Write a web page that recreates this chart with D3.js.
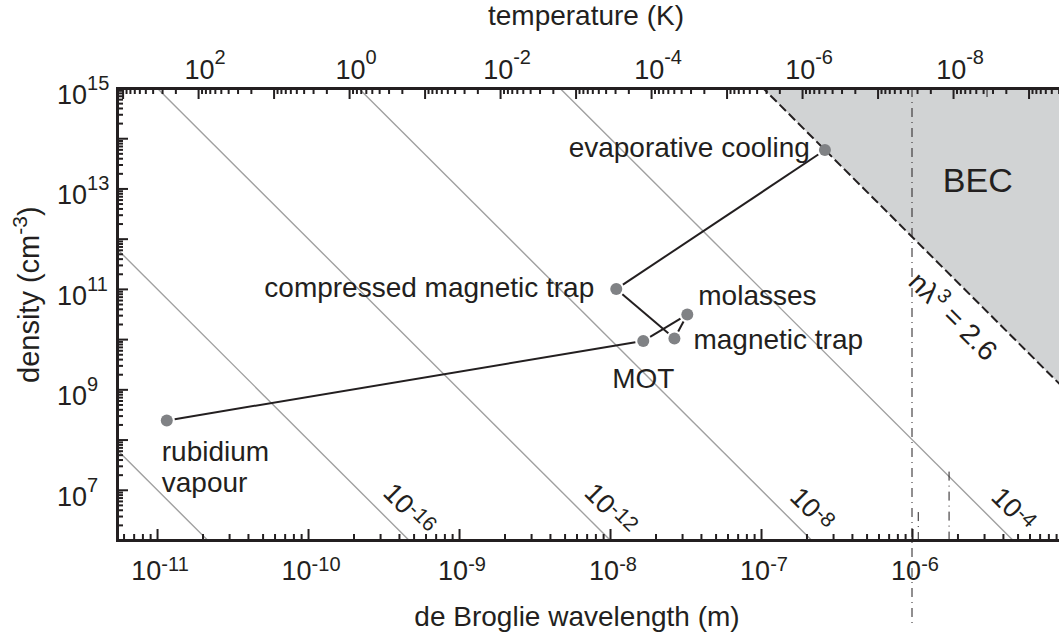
<!DOCTYPE html>
<html lang="en">
  <head>
    <meta charset="UTF-8" />
    <title>Path to BEC in phase space</title>
    <script src="https://d3js.org/d3.v7.min.js"></script>
    <style>
      html,
      body {
        margin: 0;
        padding: 0;
        background-color: #ffffff;
      }
      svg {
        display: block;
        font-family: "Liberation Sans", Arial, Helvetica, sans-serif;
      }
      text {
        fill: #231f20;
      }
      .axis .domain {
        stroke: #231f20;
        stroke-width: 3;
        stroke-linecap: square;
      }
      .axis .tick line {
        stroke: #231f20;
        stroke-width: 2;
      }
    </style>
  </head>
  <body>
    <svg id="chart" width="1059" height="639"></svg>
    <script>
      // cooling stages: de Broglie wavelength (m) and density (cm^-3)
      const stages = [
        "rubidium vapour",
        "MOT",
        "molasses",
        "magnetic trap",
        "compressed magnetic trap",
        "evaporative cooling",
      ];
      const wavelength = [1.16e-11, 1.66e-8, 3.25e-8, 2.67e-8, 1.1e-8, 2.65e-7];
      const density = [2.4e8, 9.2e9, 3.1e10, 1.03e10, 9.9e10, 5.8e13];

      // lines of constant phase-space density n*lambda^3
      const psdValues = [1e-20, 1e-16, 1e-12, 1e-8, 1e-4];
      const psdLabels = ["", "-16", "-12", "-8", "-4"];
      const becPsd = 1.09; // where the dashed threshold sits in the picture
      const becText = "2.6";

      // tick labels (exponents of 10)
      const lambdaTickExp = [-11, -10, -9, -8, -7, -6];
      const densityTickExp = [15, 13, 11, 9, 7];
      const tempTickExp = [2, 0, -2, -4, -6, -8];

      // lambda = h / sqrt(2 pi m k T) for 87Rb, metres at T = 1 K
      const lambdaAt1K = 1.87e-10;

      // stray dotted verticals visible in the scan
      const strayLambda = [1e-6, 1.1e-6, 1.76e-6, 3.14e-6];
      const strayTop = [1e15, 3.6e6, 2.3e7, 1e15];
      const strayBottom = [2e4, 1e6, 1e6, 5.8e14];

      const plotLeft = 117,
        plotRight = 1063,
        plotTop = 88,
        plotBottom = 540;
      const ink = "#231f20";

      const x = d3.scaleLog().domain([5.43e-12, 1e-5]).range([plotLeft, plotRight]);
      const y = d3.scaleLog().domain([1e6, 1e15]).range([plotBottom, plotTop]);
      const tempOf = (l) => Math.pow(lambdaAt1K / l, 2);
      const t = d3
        .scaleLog()
        .domain(x.domain().map(tempOf))
        .range([plotLeft, plotRight]);

      const svg = d3.select("#chart");

      svg
        .append("clipPath")
        .attr("id", "plot")
        .append("rect")
        .attr("x", plotLeft)
        .attr("y", plotTop)
        .attr("width", plotRight - plotLeft)
        .attr("height", plotBottom - plotTop);

      const plot = svg.append("g").attr("clip-path", "url(#plot)");

      // density on a line n*lambda^3 = psd, lambda converted to cm
      const nOn = (psd, l) => psd / Math.pow(l * 100, 3);
      const [l0, l1] = x.domain();

      // BEC region
      const ax = x(l0),
        ay = y(nOn(becPsd, l0));
      const bx = x(l1),
        by = y(nOn(becPsd, l1));
      plot
        .append("path")
        .attr("d", `M${ax},${ay}L${bx},${by}L${bx},${ay}Z`)
        .attr("fill", "#d1d3d4");

      // constant phase-space density lines
      plot
        .selectAll("line.psd")
        .data(psdValues)
        .join("line")
        .attr("class", "psd")
        .attr("x1", x(l0))
        .attr("y1", (d) => y(nOn(d, l0)))
        .attr("x2", x(l1))
        .attr("y2", (d) => y(nOn(d, l1)))
        .attr("stroke", "#a0a0a0")
        .attr("stroke-width", 1.4);

      // BEC threshold
      plot
        .append("line")
        .attr("x1", ax)
        .attr("y1", ay)
        .attr("x2", bx)
        .attr("y2", by)
        .attr("stroke", ink)
        .attr("stroke-width", 2)
        .attr("stroke-dasharray", "9,4");

      // stray verticals
      svg
        .selectAll("line.stray")
        .data(strayLambda)
        .join("line")
        .attr("class", "stray")
        .attr("x1", (d) => x(d))
        .attr("x2", (d) => x(d))
        .attr("y1", (d, i) => y(strayTop[i]))
        .attr("y2", (d, i) => y(strayBottom[i]))
        .attr("stroke", ink)
        .attr("stroke-width", 1)
        .attr("stroke-dasharray", "9,5,1,5");

      // labels on psd lines, near the bottom
      psdValues.forEach((v, i) => {
        if (!psdLabels[i]) return;
        const lb = Math.cbrt(v / 1e6) / 100; // where the line meets n = 1e6
        const g = svg
          .append("text")
          .attr("transform", `translate(${x(lb) + 1},${509}) rotate(45)`)
          .attr("text-anchor", "middle")
          .attr("dy", "0.35em")
          .attr("font-size", 27);
        g.append("tspan").text("10");
        g.append("tspan").attr("font-size", 21).attr("dy", -6).text(psdLabels[i]);
      });

      // n lambda^3 = 2.6 label along the threshold
      {
        const lx = Math.pow(10, -5.6);
        const fx = x(lx),
          fy = y(nOn(becPsd, lx));
        const cx = fx - 27 * Math.SQRT1_2,
          cy = fy + 27 * Math.SQRT1_2;
        const g = svg
          .append("text")
          .attr("transform", `translate(${cx},${cy}) rotate(45)`)
          .attr("text-anchor", "middle")
          .attr("dy", "0.35em")
          .attr("font-size", 28);
        g.append("tspan").text("n\u03bb");
        g.append("tspan").attr("font-size", 20).attr("dy", -11).text("3");
        g.append("tspan").attr("dy", 11).text(" = " + becText);
      }

      svg
        .append("text")
        .attr("x", x(1.6e-6))
        .attr("y", y(8.5e12))
        .attr("font-size", 34)
        .text("BEC");

      // connecting path between stages, trimmed away from the dots
      const pts = wavelength.map((l, i) => [x(l), y(density[i])]);
      const gap = 8;
      const segs = d3.pairs(pts).map(([a, b]) => {
        const dx = b[0] - a[0],
          dy = b[1] - a[1],
          L = Math.hypot(dx, dy);
        return [
          a[0] + (dx / L) * gap,
          a[1] + (dy / L) * gap,
          b[0] - (dx / L) * gap,
          b[1] - (dy / L) * gap,
        ];
      });
      svg
        .selectAll("line.seg")
        .data(segs)
        .join("line")
        .attr("class", "seg")
        .attr("x1", (d) => d[0])
        .attr("y1", (d) => d[1])
        .attr("x2", (d) => d[2])
        .attr("y2", (d) => d[3])
        .attr("stroke", ink)
        .attr("stroke-width", 2);

      svg
        .selectAll("circle.stage")
        .data(pts)
        .join("circle")
        .attr("class", "stage")
        .attr("cx", (d) => d[0])
        .attr("cy", (d) => d[1])
        .attr("r", 6)
        .attr("fill", "#808285");

      // stage label placement: [dx, dy, anchor]
      const labelPos = {
        "rubidium vapour": [-5, 41, "start"],
        MOT: [0, 47, "middle"],
        molasses: [11, -9, "start"],
        "magnetic trap": [19, 11, "start"],
        "compressed magnetic trap": [-22, 8, "end"],
        "evaporative cooling": [-15, 7, "end"],
      };
      stages.forEach((s, i) => {
        const [dx, dy, anchor] = labelPos[s];
        const txt = svg
          .append("text")
          .attr("x", pts[i][0] + dx)
          .attr("y", pts[i][1] + dy)
          .attr("text-anchor", anchor)
          .attr("font-size", 28);
        if (s === "rubidium vapour") {
          txt.append("tspan").text("rubidium");
          txt
            .append("tspan")
            .attr("x", pts[i][0] + dx)
            .attr("dy", 31)
            .text("vapour");
        } else {
          txt.text(s);
        }
      });

      // axes: major ticks every decade, minor ticks 2..9
      const decades = d3.range(-20, 20);
      const minorIn = (sc) => {
        const [a, b] = d3.extent(sc.domain());
        const out = [];
        decades.forEach((e) =>
          d3.range(2, 10).forEach((k) => {
            const v = k * Math.pow(10, e);
            if (v > a && v < b) out.push(v);
          })
        );
        return out;
      };
      const majorIn = (sc) => {
        const [a, b] = d3.extent(sc.domain());
        return decades.map((e) => Math.pow(10, e)).filter((v) => v >= a && v <= b);
      };

      function drawAxis(axisFn, sc, transform) {
        const g = svg.append("g").attr("class", "axis").attr("transform", transform);
        g.call(axisFn(sc).tickValues(minorIn(sc)).tickSize(-6).tickSizeOuter(0).tickFormat(""));
        const g2 = svg.append("g").attr("class", "axis").attr("transform", transform);
        g2.call(axisFn(sc).tickValues(majorIn(sc)).tickSize(-11).tickSizeOuter(0).tickFormat(""));
        g2.select(".domain").remove();
      }
      drawAxis(d3.axisBottom, x, `translate(0,${plotBottom})`);
      drawAxis(d3.axisTop, t, `translate(0,${plotTop})`);
      drawAxis(d3.axisLeft, y, `translate(${plotLeft},0)`);

      function powerLabel(sel, exp, size, supDy) {
        sel.append("tspan").text("10");
        sel.append("tspan").attr("font-size", size).attr("dy", supDy).text(exp);
      }

      lambdaTickExp.forEach((e) => {
        const txt = svg
          .append("text")
          .attr("x", x(Math.pow(10, e)) + 3)
          .attr("y", 580)
          .attr("text-anchor", "middle")
          .attr("font-size", 27);
        powerLabel(txt, String(e), 20, -9);
      });

      tempTickExp.forEach((e) => {
        const txt = svg
          .append("text")
          .attr("x", t(Math.pow(10, e)) + 7)
          .attr("y", 79)
          .attr("text-anchor", "middle")
          .attr("font-size", 27);
        powerLabel(txt, String(e), 20, -15);
      });

      densityTickExp.forEach((e) => {
        const txt = svg
          .append("text")
          .attr("x", 57)
          .attr("y", y(Math.pow(10, e)) + 16)
          .attr("font-size", 27);
        powerLabel(txt, String(e), 20, -14);
      });

      // axis titles
      svg
        .append("text")
        .attr("x", 586)
        .attr("y", 25)
        .attr("text-anchor", "middle")
        .attr("font-size", 28)
        .text("temperature (K)");

      svg
        .append("text")
        .attr("x", 577)
        .attr("y", 626)
        .attr("text-anchor", "middle")
        .attr("font-size", 28)
        .text("de Broglie wavelength (m)");

      const yt = svg
        .append("text")
        .attr("transform", "translate(39,383) rotate(-90)")
        .attr("font-size", 29);
      yt.append("tspan").text("density (cm");
      yt.append("tspan").attr("font-size", 21).attr("dy", -12).text("-3");
      yt.append("tspan").attr("dy", 12).text(")");
    </script>
  </body>
</html>
